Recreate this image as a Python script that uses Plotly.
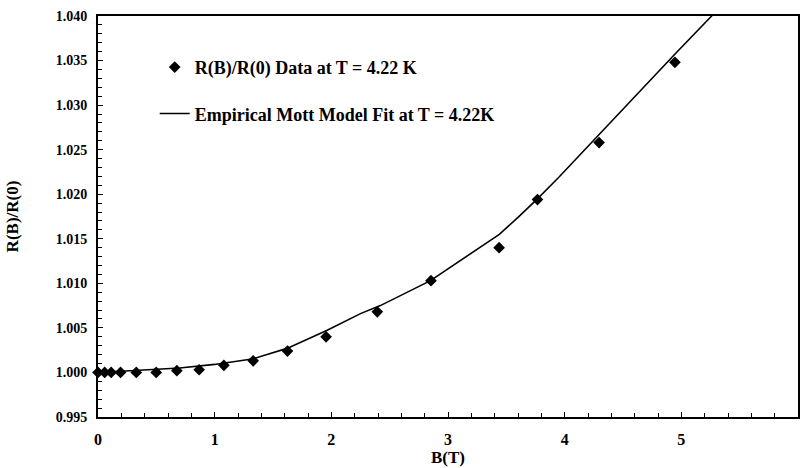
import plotly.graph_objects as go

# Measured data points
b_data = [0.0, 0.057, 0.113, 0.193, 0.328, 0.499, 0.676, 0.867, 1.079, 1.330, 1.624, 1.955, 2.394, 2.854, 3.438, 3.767, 4.295, 4.945]
r_data = [1.0000, 1.0000, 1.0000, 1.0000, 1.0000, 1.0000, 1.0002, 1.0003, 1.0008, 1.0013, 1.0024, 1.0040, 1.0068, 1.0103, 1.0140, 1.0194, 1.0258, 1.0348]

# Empirical Mott model fit curve (traced)
b_fit = [0.0, 0.5, 0.7, 1.0, 1.32, 1.62, 1.96, 2.25, 2.42, 2.85, 3.10, 3.44, 3.60, 3.76, 3.95, 4.30, 4.95, 5.26, 5.40]
r_fit = [1.0000, 1.0003, 1.0005, 1.0009, 1.0015, 1.0027, 1.0047, 1.0066, 1.0075, 1.0103, 1.0125, 1.0155, 1.0174, 1.0194, 1.0219, 1.0268, 1.0358, 1.0400, 1.0419]

x_ticks = [0, 1, 2, 3, 4, 5, 6]
y_ticks = [0.995, 1.000, 1.005, 1.010, 1.015, 1.020, 1.025, 1.030, 1.035, 1.040]

FONT = "'Liberation Serif', 'Times New Roman', Times, serif"

fig = go.Figure()
fig.add_trace(go.Scatter(
    x=b_data, y=r_data, mode="markers",
    name="R(B)/R(0) Data at T = 4.22 K",
    marker=dict(symbol="diamond", size=9, color="black"),
    cliponaxis=False, legendgroup="a",
))
fig.add_trace(go.Scatter(
    x=b_fit, y=r_fit, mode="lines",
    name="Empirical Mott Model Fit at T = 4.22K",
    line=dict(color="black", width=1.6),
    legendgroup="b",
))

fig.update_layout(
    width=801, height=468,
    margin=dict(l=98, r=1, t=16, b=51),
    plot_bgcolor="white", paper_bgcolor="white",
    font=dict(family=FONT, color="black", size=15, weight="bold"),
    showlegend=True,
    legend=dict(
        x=0.081, y=0.918, xanchor="left", yanchor="top",
        font=dict(family=FONT, size=18, color="black", weight="bold"),
        bgcolor="rgba(0,0,0,0)", tracegroupgap=20,
    ),
    xaxis=dict(
        range=[0, 6], tickvals=x_ticks, ticktext=[str(v) for v in x_ticks],
        ticks="inside", ticklen=5, tickwidth=1.2, tickcolor="black",
        minor=dict(dtick=0.2, ticks="inside", ticklen=4, tickwidth=1, tickcolor="black"),
        showline=True, linecolor="black", linewidth=2, mirror=True,
        showgrid=False, zeroline=False, ticklabelstandoff=7,
        tickfont=dict(family=FONT, size=16, weight="bold"),
        title=dict(text="B(T)", font=dict(family=FONT, size=17, weight="bold"), standoff=0),
    ),
    yaxis=dict(
        range=[0.995, 1.040], tickvals=y_ticks, ticktext=[f"{v:.3f}" for v in y_ticks],
        ticks="inside", ticklen=5, tickwidth=1.2, tickcolor="black",
        minor=dict(dtick=0.001, ticks="inside", ticklen=4, tickwidth=1, tickcolor="black"),
        showline=True, linecolor="black", linewidth=2, mirror=True,
        showgrid=False, zeroline=False, ticklabelstandoff=6,
        tickfont=dict(family=FONT, size=14, weight="bold"),
        title=dict(text="R(B)/R(0)", font=dict(family=FONT, size=17, weight="bold"), standoff=33),
    ),
)

fig.write_html("out.html")
